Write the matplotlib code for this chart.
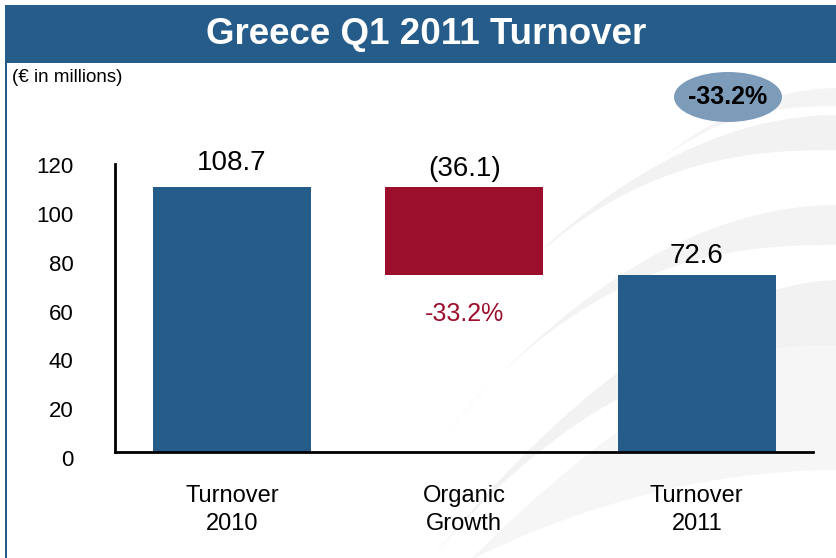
import matplotlib
matplotlib.use("Agg")
import matplotlib.pyplot as plt
from matplotlib.patches import Rectangle, Ellipse, Polygon
import matplotlib.transforms as mtransforms
import numpy as np

categories = ["Turnover\n2010", "Organic\nGrowth", "Turnover\n2011"]
start_value = 108.7
change_value = -36.1
end_value = 72.6
value_labels = ["108.7", "(36.1)", "72.6"]
change_pct = "-33.2%"
yticks = [0, 20, 40, 60, 80, 100, 120]

BLUE = "#265C8A"
RED = "#9B0F2D"
ELL = "#7D9CBA"

plt.rcParams['font.family'] = ['Liberation Sans', 'DejaVu Sans']

W, H = 837, 558
fig = plt.figure(figsize=(W/100, H/100), dpi=100)
fig.patch.set_facecolor("white")

def fpoly(pts, color, z=-5):
    pts = np.array(pts, dtype=float)
    pts[:, 0] /= W
    pts[:, 1] = 1 - pts[:, 1] / H
    fig.patches.append(Polygon(pts, closed=True, transform=fig.transFigure,
                               facecolor=color, edgecolor="none", zorder=z))

def band(x0, y0, y_lo, y_hi, color, p=2.0):
    # tapered swoosh from (x0, y0) to right edge between y_lo and y_hi
    t = np.linspace(0, 1, 60)
    xs = x0 + (W + 2 - x0) * t
    s = 1 - (1 - t) ** p
    lo = y0 + (y_lo - y0) * s
    hi = y0 + (y_hi - y0) * (1 - (1 - t) ** (p * 1.25))
    fpoly(np.vstack([np.column_stack([xs, lo]), np.column_stack([xs, hi])[::-1]]), color)

# soft swoosh background
band(470, 560, 330, 470, "#F6F6F6", 1.6)
band(430, 560, 280, 345, "#F2F2F2", 1.8)
band(440, 440, 205, 245, "#F3F3F3", 2.0)
band(520, 270, 115, 150, "#F2F2F2", 2.0)
band(660, 160, 88, 106, "#F4F4F4", 2.0)

# title bar
fig.patches.append(Rectangle((5/W, 1-63/H), 1-5/W, 58/H, transform=fig.transFigure,
                             facecolor=BLUE, edgecolor="none", zorder=1))
# left border line
fig.patches.append(Rectangle((4.5/W, 0), 2.5/W, 1-63/H, transform=fig.transFigure,
                             facecolor=BLUE, edgecolor="none", zorder=1))
fig.text(426/W, 1-35/H, "Greece Q1 2011 Turnover", color="white", fontsize=26.5,
         fontweight="bold", ha="center", va="center")
fig.text(12/W, 1-77/H, "(€ in millions)", fontsize=13.5, ha="left", va="center")

ax = fig.add_axes([115/W, 1-452/H, (813-115)/W, (452-159)/H])
ax.set_facecolor("none")
ax.set_zorder(2)
x = np.arange(len(categories))
bw = 0.68
bottoms = [0, end_value, 0]
heights = [start_value, -change_value, end_value]
colors = [BLUE, RED, BLUE]
ax.bar(x, heights, bottom=bottoms, width=bw, color=colors, zorder=2)

tops = [start_value, start_value, end_value]
gaps = [4.5, 2.0, 2.5]
for xi, top, gap, lab in zip(x, tops, gaps, value_labels):
    ax.text(xi, top + gap, lab, ha="center", va="bottom", fontsize=20)
ax.text(x[1], end_value - 11, change_pct, ha="center", va="top", fontsize=18, color=RED)

ax.set_xlim(-0.503, 2.5)
ax.set_ylim(0, 120)
ax.set_yticks(yticks)
ax.set_yticklabels([str(v) for v in yticks], fontsize=16)
ax.set_xticks(x)
ax.set_xticklabels(categories, fontsize=17, linespacing=1.35)
ax.tick_params(axis="y", length=0, pad=30)
ax.tick_params(axis="x", length=0, pad=24)
off = mtransforms.ScaledTranslation(0, -6/100, fig.dpi_scale_trans)
for lab in ax.get_yticklabels():
    lab.set_transform(lab.get_transform() + off)
for s in ["top", "right"]:
    ax.spines[s].set_visible(False)
ax.spines["left"].set_linewidth(2)
ax.spines["bottom"].set_linewidth(2)
ax.spines["left"].set_bounds(0, 118)

# ellipse badge
fig.patches.append(Ellipse((728/W, 1-97/H), 108/W, 50/H, transform=fig.transFigure,
                           facecolor=ELL, edgecolor="none", zorder=3))
fig.text(728/W, 1-97/H, change_pct, fontsize=18, fontweight="bold", ha="center",
         va="center", zorder=4)

fig.savefig("out.png", dpi=100)
